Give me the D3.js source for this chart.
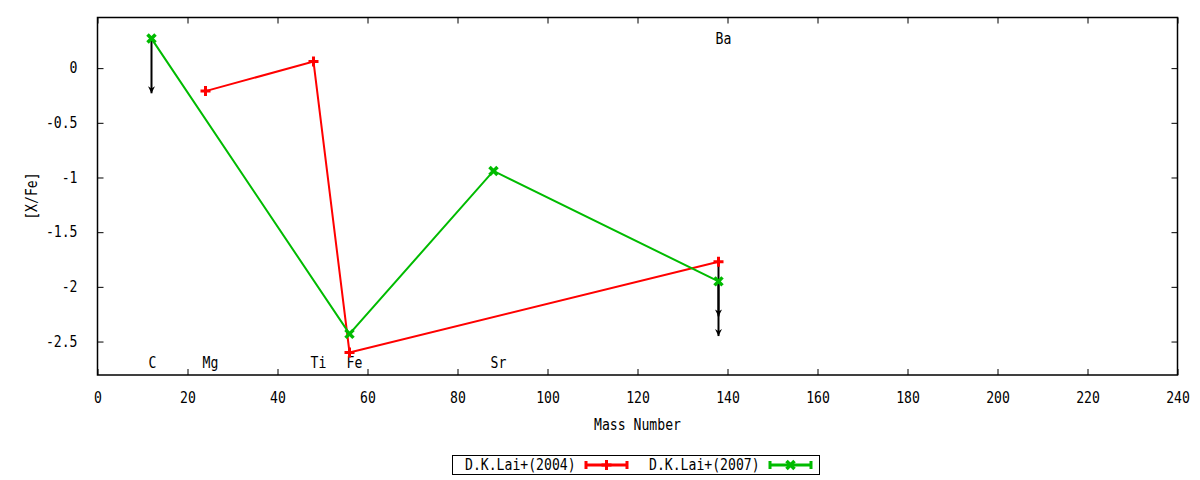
<!DOCTYPE html>
<html lang="en">
<head>
	<meta charset="UTF-8">
	<title>[X/Fe] vs Mass Number</title>
	<script src="https://cdn.jsdelivr.net/npm/d3@7"></script>
	<style>
		body{
			margin: 0px;
			background: #fff;
		}
		text{
			font-family: "DejaVu Sans Mono", monospace;
			font-size: 15px;
			fill: #000;
		}
	</style>
</head>
<body>
	<svg></svg>
	<script>
		// series: mass number and [X/Fe]
		var lai2004Mass = [24, 48, 56, 138],
			lai2004Val = [-0.21, 0.06, -2.6, -1.77];
		var lai2007Mass = [12, 56, 88, 138],
			lai2007Val = [0.27, -2.43, -0.94, -1.95];

		// upper limits drawn as arrows: [mass, from, to]
		var limitMass = [12, 138, 138],
			limitFrom = [0.27, -1.77, -1.95],
			limitTo = [-0.23, -2.27, -2.45];

		// element labels
		var elemNames = ["C", "Mg", "Ti", "Fe", "Sr", "Ba"],
			elemMass = [12, 24, 48, 56, 88, 138],
			elemY = [-2.7, -2.7, -2.7, -2.7, -2.7, 0.27];

		var xTicks = d3.range(0, 241, 20),
			yTicks = [0, -0.5, -1, -1.5, -2, -2.5];

		var w = 1200,
			h = 480,
			m = {left: 97.5, right: 22.5, top: 17.5, bottom: 105},
			svg = d3.select("svg").attr("width", w).attr("height", h);

		var x = d3.scaleLinear().domain([0, 240]).range([m.left, w - m.right]),
			y = d3.scaleLinear().domain([-2.806, 0.463]).range([h - m.bottom, m.top]);

		var plotW = w - m.left - m.right,
			plotH = h - m.top - m.bottom;

		// axes (ticks inward on all sides like gnuplot)
		svg.append("g")
			.attr("transform", "translate(0," + (h - m.bottom) + ")")
			.call(d3.axisBottom(x).tickValues(xTicks).tickSize(-6).tickPadding(17).tickFormat(d3.format("d")))
			.call(g => g.select(".domain").remove());
		svg.append("g")
			.attr("transform", "translate(0," + m.top + ")")
			.call(d3.axisTop(x).tickValues(xTicks).tickSize(-6).tickFormat(""))
			.call(g => g.select(".domain").remove());
		svg.append("g")
			.attr("transform", "translate(" + m.left + ",0)")
			.call(d3.axisLeft(y).tickValues(yTicks).tickSize(-6).tickPadding(20).tickFormat(d => d))
			.call(g => g.select(".domain").remove());
		svg.append("g")
			.attr("transform", "translate(" + (w - m.right) + ",0)")
			.call(d3.axisRight(y).tickValues(yTicks).tickSize(-6).tickFormat(""))
			.call(g => g.select(".domain").remove());

		svg.selectAll(".tick line").attr("stroke", "#000").attr("stroke-width", 1);
		svg.selectAll(".tick text").style("font-family", "DejaVu Sans Mono, monospace").style("font-size", "15px");

		svg.append("rect")
			.attr("x", m.left).attr("y", m.top)
			.attr("width", plotW).attr("height", plotH)
			.attr("fill", "none").attr("stroke", "#000").attr("stroke-width", 1.5);

		// axis titles
		svg.append("text")
			.attr("x", x(120)).attr("y", 430)
			.attr("text-anchor", "middle")
			.text("Mass Number");
		svg.append("text")
			.attr("transform", "translate(37," + y(-1.17) + ") rotate(-90)")
			.attr("text-anchor", "middle")
			.text("[X/Fe]");

		// element labels
		svg.selectAll(".elem")
			.data(elemNames)
			.enter().append("text")
			.attr("class", "elem")
			.attr("x", (d, i) => x(elemMass[i]) - 3)
			.attr("y", (d, i) => y(elemY[i]) + 5)
			.text(d => d);

		// arrowhead
		svg.append("defs").append("marker")
			.attr("id", "head")
			.attr("viewBox", "0 0 10 10")
			.attr("refX", 10).attr("refY", 5)
			.attr("markerWidth", 8).attr("markerHeight", 7)
			.attr("markerUnits", "userSpaceOnUse")
			.attr("orient", "auto")
			.append("path")
			.attr("d", "M0,0 L10,5 L0,10 L3,5 Z")
			.attr("fill", "#000");

		var line = d3.line().x(d => x(d[0])).y(d => y(d[1]));

		function plus(g, cx, cy, col) {
			g.append("path")
				.attr("d", "M" + (cx - 5) + "," + cy + "H" + (cx + 5) + "M" + cx + "," + (cy - 5) + "V" + (cy + 5))
				.attr("stroke", col).attr("stroke-width", 3).attr("fill", "none");
		}
		function cross(g, cx, cy, col) {
			g.append("path")
				.attr("d", "M" + (cx - 4) + "," + (cy - 4) + "L" + (cx + 4) + "," + (cy + 4) + "M" + (cx + 4) + "," + (cy - 4) + "L" + (cx - 4) + "," + (cy + 4))
				.attr("stroke", col).attr("stroke-width", 3.5).attr("fill", "none");
		}

		var red = "#ff0000",
			green = "#00bb00";

		var d04 = lai2004Mass.map((v, i) => [v, lai2004Val[i]]),
			d07 = lai2007Mass.map((v, i) => [v, lai2007Val[i]]);

		var plot = svg.append("g");

		// arrows first so points sit on top
		limitMass.forEach((mm, i) => {
			plot.append("line")
				.attr("x1", x(mm)).attr("x2", x(mm))
				.attr("y1", y(limitFrom[i])).attr("y2", y(limitTo[i]))
				.attr("stroke", "#000").attr("stroke-width", 2)
				.attr("marker-end", "url(#head)");
		});

		plot.append("path").datum(d04).attr("d", line)
			.attr("fill", "none").attr("stroke", red).attr("stroke-width", 2);
		plot.append("path").datum(d07).attr("d", line)
			.attr("fill", "none").attr("stroke", green).attr("stroke-width", 2);

		d04.forEach(d => plus(plot, x(d[0]), y(d[1]), red));
		d07.forEach(d => cross(plot, x(d[0]), y(d[1]), green));

		// legend
		var leg = svg.append("g");
		leg.append("rect")
			.attr("x", 452.5).attr("y", 455.5).attr("width", 367).attr("height", 19)
			.attr("fill", "none").attr("stroke", "#000").attr("stroke-width", 1);
		var legItems = [["D.K.Lai+(2004)", red, plus], ["D.K.Lai+(2007)", green, cross]];
		legItems.forEach((it, i) => {
			var ox = 465 + i * 184;
			leg.append("text").attr("x", ox).attr("y", 470).text(it[0]);
			var lx0 = ox + 121, lx1 = ox + 162, ly = 465;
			leg.append("path")
				.attr("d", "M" + lx0 + "," + ly + "H" + lx1 + "M" + lx0 + "," + (ly - 4) + "V" + (ly + 4) + "M" + lx1 + "," + (ly - 4) + "V" + (ly + 4))
				.attr("stroke", it[1]).attr("stroke-width", 3).attr("fill", "none");
			it[2](leg, (lx0 + lx1) / 2, ly, it[1]);
		});

		// condensed mono look: squeeze every text to ~7.9px per character
		svg.selectAll("text").each(function() {
			var t = d3.select(this), s = t.text();
			if (s.length) t.attr("textLength", s.length * 7.9).attr("lengthAdjust", "spacingAndGlyphs");
		});
	</script>
</body>
</html>
